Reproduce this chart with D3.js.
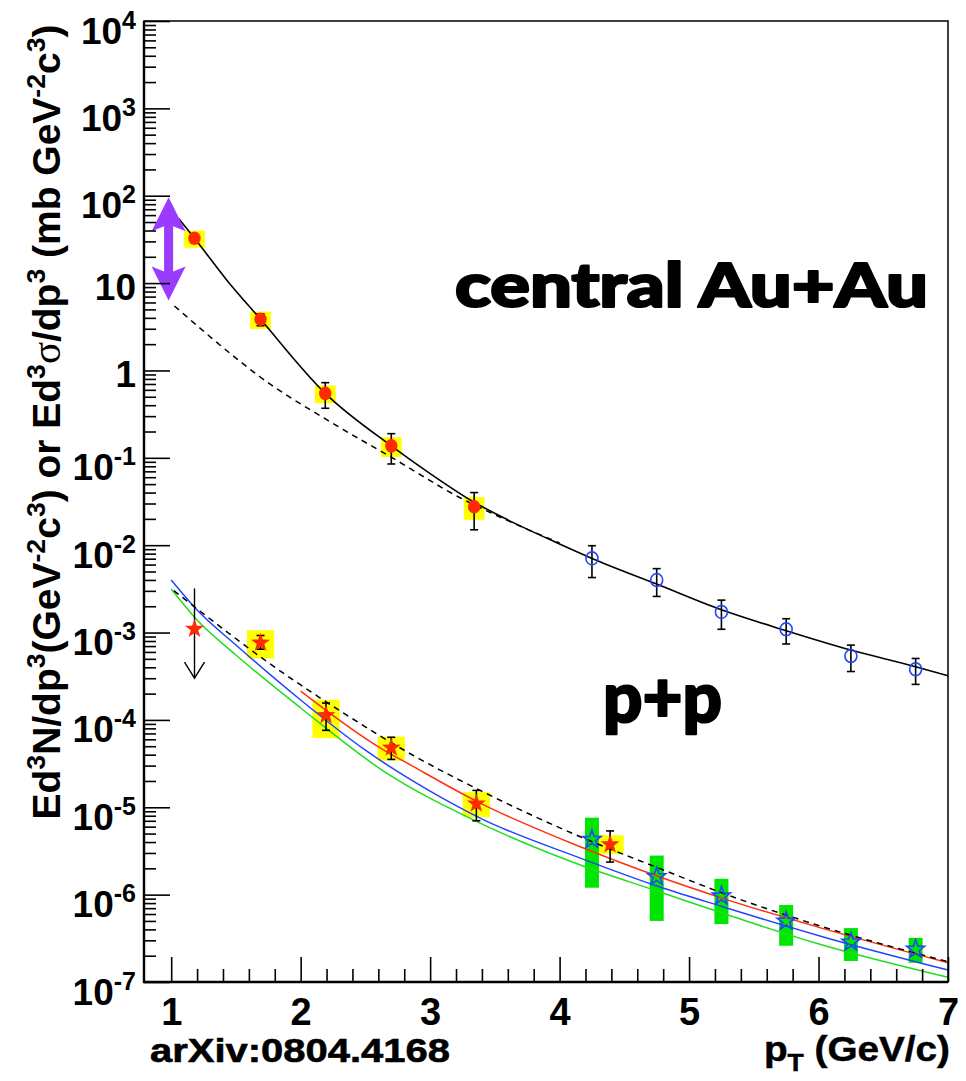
<!DOCTYPE html>
<html><head><meta charset="utf-8">
<script src="https://cdn.jsdelivr.net/npm/d3@7"></script>
<style>body{margin:0;background:#fff}svg{display:block}</style>
</head><body>
<svg id="c" width="966" height="1081"></svg>
<script>
// ---------------- data ----------------
// central Au+Au, filled red circles (pT, value, stat err, sys err)
const auauPt  = [1.18, 1.69, 2.19, 2.70, 3.34];
const auauVal = [32.6, 3.85, 0.547, 0.137, 0.0275];
const auauErr = [4.0, 0.6, 0.178, 0.052, 0.0125];
const auauSys = [7.2, 0.86, 0.125, 0.035, 0.008];
// central Au+Au, open blue circles
const auauOpenPt  = [4.25, 4.75, 5.25, 5.75, 6.25, 6.75];
const auauOpenVal = [7.06e-3, 3.99e-3, 1.72e-3, 1.09e-3, 5.38e-4, 3.8e-4];
const auauOpenErr = [2.8e-3, 1.4e-3, 0.63e-3, 0.35e-3, 1.8e-4, 1.25e-4];
// p+p, red stars
const ppStarPt  = [1.69, 2.196, 2.70, 3.357, 4.39];
const ppStarVal = [7.85e-4, 1.16e-4, 4.93e-5, 1.13e-5, 3.86e-6];
const ppStarErr = [1.4e-4, 4.0e-5, 1.4e-5, 4.3e-6, 1.5e-6];
const ppStarSys = [2.8e-4, 5.4e-5, 1.5e-5, 3.6e-6, 0.93e-6];
// p+p upper limit
const ppLimitPt = [1.18];
const ppLimitVal = [1.13e-3];
const ppLimitTop = [3.2e-3];
const ppLimitBottom = [3.0e-4];
// p+p, open blue stars (green boxes)
const ppOpenPt  = [4.25, 4.75, 5.25, 5.75, 6.25, 6.75];
const ppOpenVal = [4.4e-6, 1.65e-6, 9.9e-7, 5.1e-7, 2.94e-7, 2.43e-7];
const ppOpenSys = [3.2e-6, 1.15e-6, 0.53e-6, 0.25e-6, 1.2e-7, 0.77e-7];
// curves
const auauFitPt  = [1.056, 1.18, 1.43, 1.69, 2.19, 2.70, 3.0, 3.34, 3.6, 3.97, 4.25, 4.75, 5.25, 5.75, 6.25, 6.75, 7.0];
const auauFitVal = [55.2, 32.6, 10.8, 3.85, 0.547, 0.137, 0.066, 0.031, 0.0195, 0.0108, 7.06e-3, 3.59e-3, 1.82e-3, 1.05e-3, 6.3e-4, 4.07e-4, 3.2e-4];
const auauDashPt  = [1.025, 1.536, 1.69, 2.204, 2.719, 3.235, 3.6, 4.0];
const auauDashVal = [5.47, 1.256, 0.836, 0.2716, 0.0977, 0.0347, 0.0191, 0.0106];
const ppDashPt  = [1.02, 1.43, 1.69, 2.0, 2.35, 2.85, 3.39, 4.16, 4.77, 5.26, 6.03, 7.0];
const ppDashVal = [3.02e-3, 1.02e-3, 5.25e-4, 2.51e-4, 1.15e-4, 4.07e-5, 1.55e-5, 4.6e-6, 2.0e-6, 1.04e-6, 4.3e-7, 1.71e-7];
const ppRedPt  = [2.0, 2.62, 2.85, 3.39, 4.16, 4.77, 5.26, 6.03, 7.0];
const ppRedVal = [2.14e-4, 4.73e-5, 3.04e-5, 1.11e-5, 3.53e-6, 1.6e-6, 9.07e-7, 4.11e-7, 1.66e-7];
const ppBluePt  = [1.0, 1.2, 1.5, 2.0, 2.5, 3.0, 3.39, 4.16, 4.77, 5.26, 6.03, 7.0];
const ppBlueVal = [3.99e-3, 1.81e-3, 7.2e-4, 1.69e-4, 4.5e-5, 1.53e-5, 7.47e-6, 2.62e-6, 1.23e-6, 7.27e-7, 3.3e-7, 1.37e-7];
const ppGreenPt  = [1.0, 1.2, 1.5, 2.0, 2.62, 3.39, 4.16, 4.77, 5.26, 6.03, 7.0];
const ppGreenVal = [3.15e-3, 1.39e-3, 5.53e-4, 1.37e-4, 2.72e-5, 6.55e-6, 2.18e-6, 1.08e-6, 6.11e-7, 2.65e-7, 1.13e-7];
// purple double arrow (pT, top, bottom)
const purpleArrow = [0.98, 96, 6.3];
// axis ticks / labels
const xTickLabels = ["1","2","3","4","5","6","7"];
const yDecades = [-7,-6,-5,-4,-3,-2,-1,0,1,2,3,4];

// ---------------- drawing ----------------
const svg = d3.select('#c');
svg.append('rect').attr('width',966).attr('height',1081).attr('fill','#fff');
const x = d3.scaleLinear().domain([0.79, 7.0]).range([144, 948]);
const y = d3.scaleLog().domain([1e-7, 1e4]).range([982, 21]);
const FONT = "'Liberation Sans', Arial, Helvetica, sans-serif";

const YEL = '#ffff00', GRN = '#00e600', RED = '#ff2a00', BLU = '#2244ff';

function boxes(pts, vals, sys, half, color){
  svg.append('g').selectAll('rect').data(d3.zip(pts, vals, sys)).join('rect')
    .attr('x', d => x(d[0]-half)).attr('width', d => x(d[0]+half)-x(d[0]-half))
    .attr('y', d => y(d[1]+d[2])).attr('height', d => y(d[1]-d[2])-y(d[1]+d[2]))
    .attr('fill', color);
}
boxes(auauPt, auauVal, auauSys, 0.08, YEL);
boxes(ppStarPt, ppStarVal, ppStarSys, 0.105, YEL);
boxes(ppOpenPt, ppOpenVal, ppOpenSys, 0.054, GRN);

const line = d3.line().x(d => x(d[0])).y(d => y(d[1])).curve(d3.curveMonotoneX);
function curve(pts, vals, color, dash, w){
  svg.append('path').datum(d3.zip(pts, vals)).attr('d', line)
    .attr('fill','none').attr('stroke', color).attr('stroke-width', w||1.5)
    .attr('stroke-dasharray', dash||null);
}
curve(ppGreenPt, ppGreenVal, '#22dd22');
curve(ppBluePt, ppBlueVal, BLU);
curve(ppRedPt, ppRedVal, '#ff3010');
curve(ppDashPt, ppDashVal, '#000', '6,5');
curve(auauDashPt, auauDashVal, '#000', '6,5');
curve(auauFitPt, auauFitVal, '#000', null, 1.6);

// error bars
function errbars(pts, vals, errs){
  const g = svg.append('g').attr('stroke','#000').attr('stroke-width',1.6);
  d3.zip(pts, vals, errs).forEach(d => {
    const cx = x(d[0]), y1 = y(d[1]+d[2]), y2 = y(d[1]-d[2]);
    g.append('line').attr('x1',cx).attr('x2',cx).attr('y1',y1).attr('y2',y2);
    g.append('line').attr('x1',cx-4).attr('x2',cx+4).attr('y1',y1).attr('y2',y1);
    g.append('line').attr('x1',cx-4).attr('x2',cx+4).attr('y1',y2).attr('y2',y2);
  });
}
errbars(auauPt, auauVal, auauErr);
errbars(auauOpenPt, auauOpenVal, auauOpenErr);
errbars(ppStarPt, ppStarVal, ppStarErr);

// upper limit arrow
d3.zip(ppLimitPt, ppLimitTop, ppLimitBottom).forEach(d => {
  const cx = x(d[0]), yt = y(d[1]), yb = y(d[2]);
  const g = svg.append('g').attr('stroke','#000').attr('stroke-width',1.4).attr('fill','none');
  g.append('line').attr('x1',cx).attr('x2',cx).attr('y1',yt).attr('y2',yb);
  g.append('path').attr('d',`M${cx-10},${yb-16}L${cx},${yb}L${cx+10},${yb-16}`);
});

function starPath(R){
  const r = R*0.40; let p = '';
  for (let i=0;i<10;i++){
    const a = -Math.PI/2 + i*Math.PI/5, rad = i%2 ? r : R;
    p += (i?'L':'M') + (rad*Math.cos(a)).toFixed(2) + ',' + (rad*Math.sin(a)).toFixed(2);
  }
  return p + 'Z';
}
// markers
svg.append('g').selectAll('ellipse').data(d3.zip(auauPt, auauVal)).join('ellipse')
  .attr('cx', d => x(d[0])).attr('cy', d => y(d[1])).attr('rx',6.2).attr('ry',6.8).attr('fill', RED);
svg.append('g').selectAll('ellipse').data(d3.zip(auauOpenPt, auauOpenVal)).join('ellipse')
  .attr('cx', d => x(d[0])).attr('cy', d => y(d[1])).attr('rx',6).attr('ry',6.5)
  .attr('fill','none').attr('stroke', BLU).attr('stroke-width',1.6);
svg.append('g').selectAll('path').data(d3.zip(ppStarPt.concat(ppLimitPt), ppStarVal.concat(ppLimitVal))).join('path')
  .attr('d', starPath(10)).attr('transform', d => `translate(${x(d[0])},${y(d[1])+1})`).attr('fill', RED);
svg.append('g').selectAll('path').data(d3.zip(ppOpenPt, ppOpenVal)).join('path')
  .attr('d', starPath(9.5)).attr('transform', d => `translate(${x(d[0])},${y(d[1])+1})`)
  .attr('fill','none').attr('stroke', BLU).attr('stroke-width',1.6);

// purple double arrow
(function(){
  const cx = x(purpleArrow[0]), yt = y(purpleArrow[1]), yb = y(purpleArrow[2]);
  const hw = 17, hl = 34, sw = 4.5, notch = 5;
  const p = `M${cx},${yt}L${cx+hw},${yt+hl}L${cx+sw},${yt+hl-notch}L${cx+sw},${yb-hl+notch}L${cx+hw},${yb-hl}` +
            `L${cx},${yb}L${cx-hw},${yb-hl}L${cx-sw},${yb-hl+notch}L${cx-sw},${yt+hl-notch}L${cx-hw},${yt+hl}Z`;
  svg.append('path').attr('d', p).attr('fill', '#9a3cff');
})();

// ---------------- axes ----------------
const xMinor = d3.range(0.8, 7.001, 0.2).filter(v => Math.abs(v-Math.round(v))>1e-6 && v>0.85);
const xMajor = xTickLabels.map(Number);
const gxm = svg.append('g').attr('transform','translate(0,982)')
  .call(d3.axisBottom(x).tickValues(xMinor).tickSize(-13).tickFormat(''));
gxm.select('.domain').remove();
const gx = svg.append('g').attr('transform','translate(0,982)')
  .call(d3.axisBottom(x).tickValues(xMajor).tickSize(-25).tickFormat((d,i) => xTickLabels[i]));
gx.select('.domain').remove();
gx.selectAll('text').attr('y', 43).attr('dy', 0)
  .style('font-family', FONT).style('font-weight','bold').style('font-size','38px').attr('fill','#000');

const yMajor = yDecades.map(e => Math.pow(10, e));
const yMinor = [];
yDecades.slice(0,-1).forEach(e => { for (let k=2;k<=9;k++) yMinor.push(k*Math.pow(10,e)); });
const gym = svg.append('g').attr('transform','translate(144,0)')
  .call(d3.axisLeft(y).tickValues(yMinor).tickSize(-12).tickFormat(''));
gym.select('.domain').remove();
const gy = svg.append('g').attr('transform','translate(144,0)')
  .call(d3.axisLeft(y).tickValues(yMajor).tickSize(-26).tickFormat(''));
gy.select('.domain').remove();
gy.selectAll('.tick text').remove();
gy.selectAll('.tick').each(function(d){
  const e = Math.round(Math.log10(d));
  const t = d3.select(this).append('text').attr('x', -8).attr('text-anchor','end')
    .style('font-family', FONT).style('font-weight','bold').style('font-size','37px').attr('fill','#000');
  if (e === 0) { t.attr('y', 16).text('1'); }
  else if (e === 1) { t.attr('y', 16).text('10'); }
  else {
    t.attr('y', 22);
    t.append('tspan').text('10');
    t.append('tspan').attr('dy', -15).style('font-size','25px').text(String(e));
  }
});
svg.selectAll('.tick line').attr('stroke','#000').attr('stroke-width',1.6);

// frame
svg.append('rect').attr('x',144).attr('y',21).attr('width',804).attr('height',961)
  .attr('fill','none').attr('stroke','#000').attr('stroke-width',1.5);
svg.append('path').attr('d','M144,21V982H948').attr('fill','none').attr('stroke','#000').attr('stroke-width',2.4);

// ---------------- texts ----------------
// y title
(function(){
  const t = svg.append('text').attr('transform','translate(60,422) rotate(-90)')
    .attr('text-anchor','middle').attr('textLength', 795).attr('lengthAdjust','spacingAndGlyphs')
    .style('font-family', FONT).style('font-weight','bold').style('font-size','38px').attr('fill','#000');
  const parts = [
    ['Ed',0],['3',1],['N/dp',0],['3',1],['(GeV',0],['-2',1],['c',0],['3',1],[') or Ed',0],['3',1],
    ['σ',2],['/dp',0],['3',1],[' (mb GeV',0],['-2',1],['c',0],['3',1],[')',0]
  ];
  let up = false;
  parts.forEach(p => {
    const s = t.append('tspan').text(p[0]);
    if (p[1] === 1) { s.style('font-size','26px'); if (!up) { s.attr('dy', -15); up = true; } }
    else { if (up) { s.attr('dy', 15); up = false; } }
    if (p[1] === 2) s.style('font-family', "'Liberation Serif', 'DejaVu Serif', serif").style('font-weight','normal').style('font-size','40px');
  });
})();

svg.append('text').attr('x', 455).attr('y', 306.7).attr('textLength', 473).attr('lengthAdjust','spacingAndGlyphs')
  .style('font-family', "Lato, 'Open Sans', sans-serif").style('font-weight','900').style('font-size','61px')
  .attr('fill','#000').attr('stroke','#000').attr('stroke-width',2.2).attr('stroke-linejoin','round')
  .text('central Au+Au');
svg.append('text').attr('x', 603).attr('y', 722).attr('textLength', 119).attr('lengthAdjust','spacingAndGlyphs')
  .style('font-family', "Lato, 'Open Sans', sans-serif").style('font-weight','900').style('font-size','70px')
  .attr('fill','#000').attr('stroke','#000').attr('stroke-width',2.2).attr('stroke-linejoin','round')
  .text('p+p');

svg.append('text').attr('x', 150).attr('y', 1062).attr('textLength', 300).attr('lengthAdjust','spacingAndGlyphs')
  .style('font-family', FONT).style('font-weight','bold').style('font-size','34px').attr('fill','#000')
  .attr('stroke','#000').attr('stroke-width',0.6)
  .text('arXiv:0804.4168');

(function(){
  const t = svg.append('text').attr('x', 764).attr('y', 1061)
    .attr('textLength', 186).attr('lengthAdjust','spacingAndGlyphs')
    .style('font-family', FONT).style('font-weight','bold').style('font-size','35px').attr('fill','#000')
    .attr('stroke','#000').attr('stroke-width',0.5);
  t.append('tspan').text('p');
  t.append('tspan').attr('dy', 10).style('font-size','24px').text('T');
  t.append('tspan').attr('dy', -10).text(' (GeV/c)');
})();
</script>
</body></html>
